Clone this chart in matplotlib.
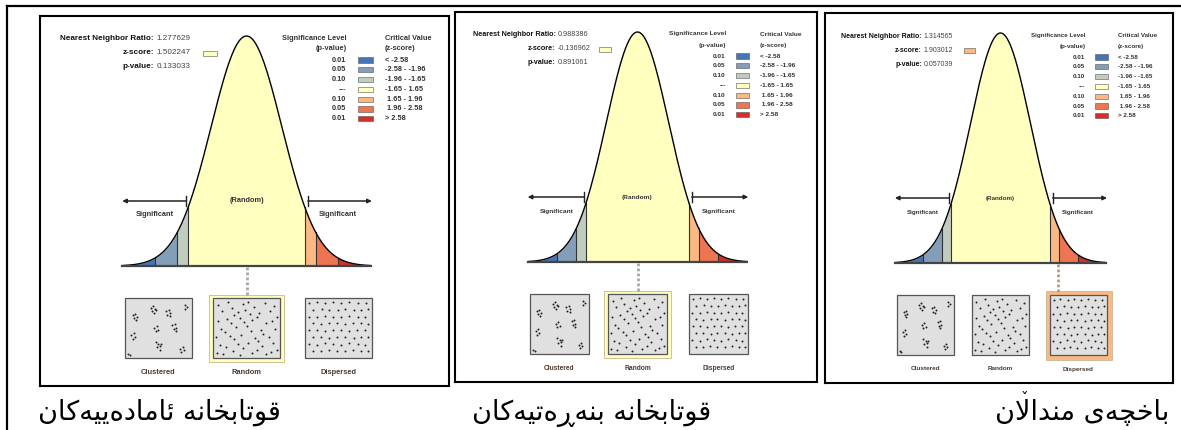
import numpy as np
import matplotlib
matplotlib.use('Agg')
import matplotlib.pyplot as plt
from matplotlib.patches import Rectangle
from matplotlib.lines import Line2D
from matplotlib import font_manager
from matplotlib.ft2font import FT2Font

W, H = 1181, 430

# report values, one per panel
nn_ratio = [1.277629, 0.988386, 1.314565]
z_scores = [1.502247, -0.136962, 1.903012]
p_values = [0.133033, 0.891061, 0.057039]
captions = ['قوتابخانە ئامادەییەکان', 'قوتابخانە بنەڕەتیەکان', 'باخچەی منداڵان']

# legend
z_breaks = [-2.58, -1.96, -1.65, 1.65, 1.96, 2.58]
p_levels = ['0.01', '0.05', '0.10', '---', '0.10', '0.05', '0.01']
z_ranges = ['< -2.58', '-2.58 - -1.96', '-1.96 - -1.65', '-1.65 - 1.65',
            ' 1.65 - 1.96', ' 1.96 - 2.58', '> 2.58']
zone_colors = ['#4575b5', '#849eba', '#c0ccbe', '#ffffbf', '#fab984', '#ed7551', '#d62f27']

pattern_names = ['Clustered', 'Random', 'Dispersed']

# point patterns inside the little squares (0-100 box units, y down)
clustered_pts = [(10, 28), (14, 26), (12, 33), (17, 31), (15, 36),
                 (38, 15), (42, 12), (45, 17), (40, 21), (44, 23), (47, 19),
                 (62, 21), (66, 18), (69, 24), (64, 27), (68, 29),
                 (91, 9), (95, 13), (92, 17),
                 (44, 50), (48, 47), (50, 53), (46, 56),
                 (72, 45), (76, 43), (78, 50), (74, 52), (77, 56),
                 (8, 62), (12, 59), (14, 65), (10, 69),
                 (46, 75), (50, 78), (53, 82), (48, 84), (52, 88), (55, 78),
                 (84, 86), (88, 83), (90, 89), (86, 92),
                 (3, 95), (6, 97)]
random_pts = [(6, 9), (21, 4), (27, 15), (44, 8), (53, 5), (61, 14), (79, 7), (93, 11),
              (12, 21), (31, 27), (37, 22), (48, 19), (55, 26), (70, 23), (86, 20), (97, 30),
              (5, 38), (19, 34), (26, 41), (40, 33), (46, 39), (59, 36), (66, 31), (81, 42), (90, 37),
              (10, 52), (16, 57), (33, 49), (51, 47), (57, 55), (72, 53), (76, 60), (94, 51),
              (3, 66), (24, 64), (30, 70), (42, 62), (63, 68), (68, 73), (85, 65),
              (8, 79), (18, 84), (37, 78), (45, 85), (52, 76), (74, 82), (91, 77), (97, 88),
              (4, 94), (14, 96), (29, 91), (40, 97), (58, 93), (66, 89), (80, 95), (88, 92)]
dispersed_pts = [(5, 6), (17, 5), (30, 7), (42, 5), (55, 7), (67, 5), (80, 6), (93, 6),
                 (11, 18), (24, 17), (36, 19), (49, 18), (61, 17), (74, 19), (86, 18), (97, 17),
                 (4, 30), (17, 31), (29, 29), (42, 31), (55, 30), (67, 29), (80, 31), (92, 30),
                 (10, 42), (23, 43), (36, 41), (48, 42), (61, 43), (73, 41), (86, 42), (97, 43),
                 (5, 54), (17, 53), (30, 55), (42, 54), (54, 53), (67, 55), (79, 54), (92, 53),
                 (11, 66), (23, 65), (36, 67), (48, 66), (61, 65), (74, 67), (86, 66), (97, 65),
                 (4, 78), (17, 79), (29, 77), (42, 78), (55, 79), (67, 77), (80, 78), (92, 79),
                 (10, 90), (23, 91), (35, 89), (48, 90), (61, 91), (73, 89), (86, 90), (97, 91)]
patterns = [clustered_pts, random_pts, dispersed_pts]


# --- tiny arabic shaper (matplotlib does no contextual shaping) ---
cmap = FT2Font(font_manager.findfont('DejaVu Sans')).get_charmap()

RIGHT = {'ا': ('\uFE8D', '\uFE8E'), 'د': ('\uFEA9', '\uFEAA'), 'ر': ('\uFEAD', '\uFEAE'),
         'و': ('\uFEED', '\uFEEE'), 'ە': ('\uFEE9', '\uFEEA'), 'ڕ': ('\u0695', '\u0695'),
         'LA': ('\uFEFB', '\uFEFC')}
DUAL = {'ب': ('\uFE8F', '\uFE90', '\uFE91', '\uFE92'), 'ت': ('\uFE95', '\uFE96', '\uFE97', '\uFE98'),
        'خ': ('\uFEA5', '\uFEA6', '\uFEA7', '\uFEA8'), 'م': ('\uFEE1', '\uFEE2', '\uFEE3', '\uFEE4'),
        'ن': ('\uFEE5', '\uFEE6', '\uFEE7', '\uFEE8'), 'ق': ('\uFED5', '\uFED6', '\uFED7', '\uFED8'),
        'ئ': ('\uFE89', '\uFE8A', '\uFE8B', '\uFE8C'), 'ی': ('\uFBFC', '\uFBFD', '\uFBFE', '\uFBFF'),
        'ک': ('\uFB8E', '\uFB8F', '\uFB90', '\uFB91'), 'چ': ('\uFB7A', '\uFB7B', '\uFB7C', '\uFB7D'),
        'ڵ': ('\u06B5', '\u06B5', '\u06B5', '\u06B5')}
FALLBACK = {'\uFBFC': '\uFEEF', '\uFBFD': '\uFEF0', '\uFBFE': '\uFEF3', '\uFBFF': '\uFEF4',
            '\uFB8E': '\uFED9', '\uFB8F': '\uFEDA', '\uFB90': '\uFEDB', '\uFB91': '\uFEDC',
            '\uFB7A': '\uFE9D', '\uFB7B': '\uFE9E', '\uFB7C': '\uFE9F', '\uFB7D': '\uFEA0'}


def glyph(ch):
    if ord(ch) not in cmap and ch in FALLBACK:
        return FALLBACK[ch]
    return ch


def shape(text):
    # returns visual (left to right) string and positions of lam-alef that need the small v
    units = []
    i = 0
    while i < len(text):
        if text[i] == 'ڵ' and i + 1 < len(text) and text[i + 1] == 'ا':
            units.append('LA')
            i += 2
        else:
            units.append(text[i])
            i += 1
    out = []
    for j, u in enumerate(units):
        prev = j > 0 and units[j - 1] in DUAL
        nxt = j + 1 < len(units) and (units[j + 1] in DUAL or units[j + 1] in RIGHT)
        if u in DUAL:
            out.append((glyph(DUAL[u][(3 if nxt else 1) if prev else (2 if nxt else 0)]), False))
        elif u in RIGHT:
            out.append((glyph(RIGHT[u][1 if prev else 0]), u == 'LA'))
        else:
            out.append((u, False))
    vis = out[::-1]
    return ''.join(g for g, _ in vis), [n for n, (_, v) in enumerate(vis) if v]


def zone_of(z):
    return int(np.searchsorted(z_breaks, z))


fig = plt.figure(figsize=(W / 100, H / 100), dpi=100)
renderer = fig.canvas.get_renderer()

# outer table lines
fig.add_artist(Line2D([7 / W, 1], [1 - 6 / H, 1 - 6 / H], color='black', lw=1.6))
fig.add_artist(Line2D([7 / W, 7 / W], [1 - 6 / H, 0], color='black', lw=1.6))

# panel placement: centre x, pixels per z unit, baseline y
panels = [(246.5, 35.3, 266), (637.5, 31.2, 262), (1000.5, 30.0, 263)]
caption_x = [159, 592, 1082]
CAP_FS = 19.5
X0, X1, YT, YB = -5.85, 5.75, -250, 120
PEAK = 230
bounds = [-3.5] + z_breaks + [3.5]
box_x = [-3.45, -0.95, 1.65]
BOX_W = 1.9


def cap_width(t):
    tt = fig.text(0, 0, t, fontsize=CAP_FS, family='DejaVu Sans')
    w = tt.get_window_extent(renderer=renderer).width if t else 0.0
    tt.remove()
    return w


for i, (cx, s, by) in enumerate(panels):
    left, right = cx + s * X0, cx + s * X1
    top, bot = by + YT, by + YB
    ax = fig.add_axes([left / W, 1 - bot / H, (right - left) / W, (bot - top) / H])
    ax.set_xlim(X0, X1)
    ax.set_ylim(YB, YT)
    ax.set_xticks([])
    ax.set_yticks([])
    for sp in ax.spines.values():
        sp.set_linewidth(1.5)
    k = s / 35.3
    fam = 'Liberation Sans'
    small = dict(fontsize=5.3 * k, fontweight='bold', family=fam, color='#333333')

    # bell curve zones
    for b0, b1, c in zip(bounds[:-1], bounds[1:], zone_colors):
        zz = np.linspace(b0, b1, 80)
        ax.fill_between(zz, -PEAK * np.exp(-zz ** 2 / 2), 0, color=c, lw=0)
    for b in z_breaks:
        ax.plot([b, b], [0, -PEAK * np.exp(-b ** 2 / 2)], color='#333333', lw=0.8)
    zz = np.linspace(-3.5, 3.5, 400)
    ax.plot(zz, -PEAK * np.exp(-zz ** 2 / 2), color='black', lw=1.0)
    ax.plot([-3.52, 3.52], [0, 0], color='#444444', lw=1.6)

    # arrows and labels
    for a0, a1 in [(-1.71, -3.52), (1.74, 3.55)]:
        ax.annotate('', xy=(a1, -65), xytext=(a0, -65),
                    arrowprops=dict(arrowstyle='-|>', color='#222222', lw=1.1,
                                    mutation_scale=6, shrinkA=0, shrinkB=0))
        ax.plot([a0, a0], [-70, -60], color='#222222', lw=1.0)
    ax.text(0, -65, '(Random)', ha='center', va='center', **small)
    for sx in [-2.59, 2.59]:
        ax.text(sx, -51, 'Significant', ha='center', va='center', **small)

    # statistics block
    zi = zone_of(z_scores[i])
    rows = [('Nearest Neighbor Ratio:', '%.6f' % nn_ratio[i]),
            ('z-score:', '%.6f' % z_scores[i]),
            ('p-value:', '%.6f' % p_values[i])]
    for (lab, val), ry in zip(rows, [-227, -213, -199]):
        ax.text(-2.62, ry, lab, ha='right', va='center', fontsize=5.9 * k,
                fontweight='bold', family=fam, color='#111111')
        ax.text(-2.56, ry, val, ha='left', va='center', fontsize=5.9 * k,
                family=fam, color='#444444')
    ax.add_patch(Rectangle((-1.22, -215.5), 0.38, 5, facecolor=zone_colors[zi],
                           edgecolor='#555555', lw=0.4))

    # legend
    ax.text(2.83, -228, 'Significance Level', ha='right', va='center', **small)
    ax.text(2.83, -217, '(p-value)', ha='right', va='center', **small)
    ax.text(3.92, -228, 'Critical Value', ha='left', va='center', **small)
    ax.text(3.92, -217, '(z-score)', ha='left', va='center', **small)
    for j, (pl, zr, c) in enumerate(zip(p_levels, z_ranges, zone_colors)):
        ry = -206 + 9.8 * j
        ax.text(2.83, ry, pl, ha='right', va='center', **small)
        ax.add_patch(Rectangle((3.16, ry - 2.6), 0.41, 5.2, facecolor=c,
                               edgecolor='#555555', lw=0.4))
        ax.text(3.92, ry, zr, ha='left', va='center', **small)

    # pattern squares
    hi = 0 if z_scores[i] <= -1.65 else (2 if z_scores[i] >= 1.65 else 1)
    mark_x = 0 if hi == 1 else z_scores[i]
    line_col = '#a8a8a0' if hi == 1 else '#c09878'
    ax.plot([mark_x, mark_x], [1, 29], color=line_col, lw=2.0, ls=(0, (1, 0.8)))
    for j, (bx, name, pts) in enumerate(zip(box_x, pattern_names, patterns)):
        if j == hi:
            pad = 3.5 if hi == 1 else 4.5
            ax.add_patch(Rectangle((bx - pad / s, 32 - pad), BOX_W + 2 * pad / s, 60 + 2 * pad,
                                   facecolor=zone_colors[zi], edgecolor='#c8b890', lw=0.6))
        ax.add_patch(Rectangle((bx, 32), BOX_W, 60, facecolor='#e0e0e0',
                               edgecolor='#555555', lw=0.9))
        px = np.array([p[0] for p in pts])
        py = np.array([p[1] for p in pts])
        ax.scatter(bx + 0.04 + px / 100 * (BOX_W - 0.08), 33.5 + py / 100 * 57,
                   s=2.0, color='#222222', lw=0)
        ax.text(bx + BOX_W / 2, 106, name, ha='center', va='center', fontsize=5.4 * k,
                fontweight='bold', family=fam, color='#4d3b30')

    # caption under the panel (right-to-left text, shaped by hand)
    vis, lig = shape(captions[i])
    fig.text(caption_x[i] / W, 1 - 420 / H, vis, ha='center', va='baseline',
             fontsize=CAP_FS, family='DejaVu Sans', color='black')
    if lig:
        full = cap_width(vis)
        x_left = caption_x[i] - full / 2
        for n in lig:
            w1, w2 = cap_width(vis[:n]), cap_width(vis[:n + 1])
            fig.text((x_left + w1 + 0.62 * (w2 - w1)) / W, 1 - 404 / H, '\u02C7',
                     ha='center', va='baseline', fontsize=11, family='DejaVu Sans')

fig.savefig('out.png', dpi=100)
